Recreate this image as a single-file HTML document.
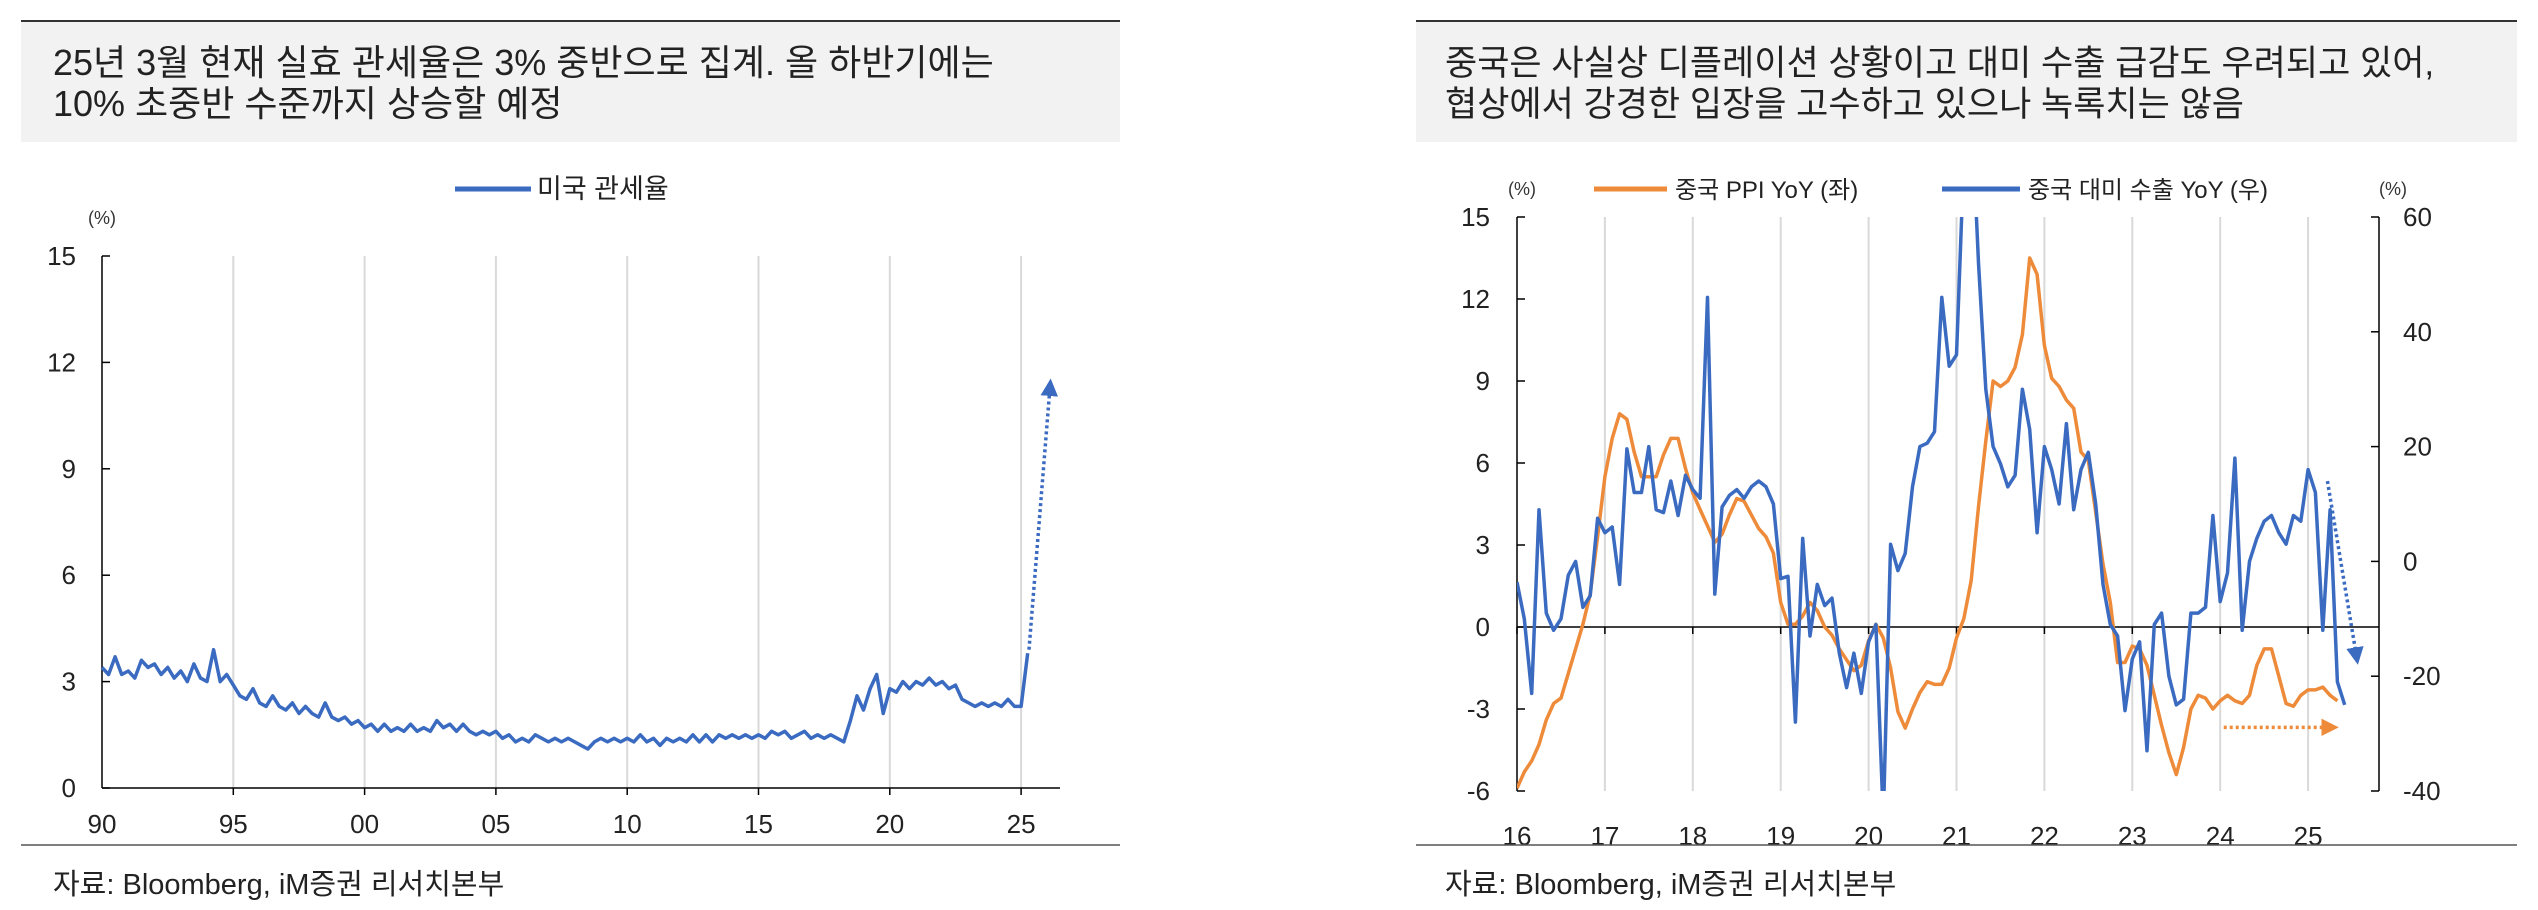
<!DOCTYPE html>
<html><head><meta charset="utf-8"><style>
html,body{margin:0;padding:0;background:#fff;}
svg{display:block;font-family:"Liberation Sans","Noto Sans CJK KR",sans-serif;}
</style></head><body>
<svg id="root" width="2538" height="910" viewBox="0 0 2538 910" xmlns="http://www.w3.org/2000/svg">
<defs>
<clipPath id="clipR"><rect x="1517" y="217" width="862" height="574"/></clipPath>
<marker id="arrB" markerWidth="5" markerHeight="5" refX="2.5" refY="2.5" orient="auto"><path d="M0,0 L5,2.5 L0,5 z" fill="#3a6bc1"/></marker>
<marker id="arrO" markerWidth="5" markerHeight="5" refX="2.5" refY="2.5" orient="auto"><path d="M0,0 L5,2.5 L0,5 z" fill="#ed8b3a"/></marker>
</defs>
<g>
<line x1="21" y1="21" x2="1120" y2="21" stroke="#333" stroke-width="2"/>
<rect x="21" y="22" width="1099" height="120" fill="#f2f2f2"/>
<text x="53" y="75" font-size="36" fill="#222">25년 3월 현재 실효 관세율은 3% 중반으로 집계. 올 하반기에는</text>
<text x="53" y="116" font-size="36" fill="#222">10% 초중반 수준까지 상승할 예정</text>
<line x1="455" y1="189" x2="531" y2="189" stroke="#3a6bc1" stroke-width="5"/>
<text x="537" y="198" font-size="27" fill="#222">미국 관세율</text>
<text x="88" y="224" font-size="18" fill="#333">(%)</text>
<g id="leftAxes"></g>
<g id="leftSeries"></g>
<line x1="21" y1="845" x2="1120" y2="845" stroke="#555" stroke-width="1.5"/>
<text x="53" y="894" font-size="29" fill="#222">자료: Bloomberg, iM증권 리서치본부</text>
</g>
<g>
<line x1="1416" y1="21" x2="2517" y2="21" stroke="#333" stroke-width="2"/>
<rect x="1416" y="22" width="1101" height="120" fill="#f2f2f2"/>
<text x="1445" y="75" font-size="35" fill="#222">중국은 사실상 디플레이션 상황이고 대미 수출 급감도 우려되고 있어,</text>
<text x="1445" y="116" font-size="35" fill="#222">협상에서 강경한 입장을 고수하고 있으나 녹록치는 않음</text>
<line x1="1594" y1="189" x2="1667" y2="189" stroke="#ed8b3a" stroke-width="5"/>
<text x="1675" y="198" font-size="24" fill="#222">중국 PPI YoY (좌)</text>
<line x1="1942" y1="189" x2="2020" y2="189" stroke="#3a6bc1" stroke-width="5"/>
<text x="2028" y="198" font-size="24" fill="#222">중국 대미 수출 YoY (우)</text>
<text x="1508" y="195" font-size="18" fill="#333">(%)</text>
<text x="2379" y="195" font-size="18" fill="#333">(%)</text>
<g id="rightAxes"></g>
<g id="rightSeries" clip-path="url(#clipR)"></g>
<g id="rightArrows"></g>
<line x1="1416" y1="845" x2="2517" y2="845" stroke="#555" stroke-width="1.5"/>
<text x="1445" y="894" font-size="29" fill="#222">자료: Bloomberg, iM증권 리서치본부</text>
</g>
</svg>
<script>
const tariffStartYear = 1990;
const tariffQuarterly = [
3.4,3.2,3.7,3.2, 3.3,3.1,3.6,3.4, 3.5,3.2,3.4,3.1, 3.3,3.0,3.5,3.1, 3.0,3.9,3.0,3.2,
2.9,2.6,2.5,2.8, 2.4,2.3,2.6,2.3, 2.2,2.4,2.1,2.3, 2.1,2.0,2.4,2.0, 1.9,2.0,1.8,1.9,
1.7,1.8,1.6,1.8, 1.6,1.7,1.6,1.8, 1.6,1.7,1.6,1.9, 1.7,1.8,1.6,1.8, 1.6,1.5,1.6,1.5,
1.6,1.4,1.5,1.3, 1.4,1.3,1.5,1.4, 1.3,1.4,1.3,1.4, 1.3,1.2,1.1,1.3, 1.4,1.3,1.4,1.3,
1.4,1.3,1.5,1.3, 1.4,1.2,1.4,1.3, 1.4,1.3,1.5,1.3, 1.5,1.3,1.5,1.4, 1.5,1.4,1.5,1.4,
1.5,1.4,1.6,1.5, 1.6,1.4,1.5,1.6, 1.4,1.5,1.4,1.5, 1.4,1.3,1.9,2.6, 2.2,2.8,3.2,2.1,
2.8,2.7,3.0,2.8, 3.0,2.9,3.1,2.9, 3.0,2.8,2.9,2.5, 2.4,2.3,2.4,2.3, 2.4,2.3,2.5,2.3,
2.3,3.8];
const tariffArrowFrom = [2025.3, 3.9];
const tariffArrowTo = [2026.1, 11.3];
const leftYTicks = [0,3,6,9,12,15];
const leftXTicks = [1990,1995,2000,2005,2010,2015,2020,2025];
const leftXLabels = ["90","95","00","05","10","15","20","25"];

const rightStartYear = 2016;
const ppiMonthly = [
-5.9,-5.3,-4.9,-4.3,-3.4,-2.8,-2.6,-1.7,-0.8,0.1,1.2,3.3,
5.5,6.9,7.8,7.6,6.4,5.5,5.5,5.5,6.3,6.9,6.9,5.8,
4.9,4.3,3.7,3.1,3.4,4.1,4.7,4.6,4.1,3.6,3.3,2.7,
0.9,0.1,0.1,0.4,0.9,0.6,0.0,-0.3,-0.8,-1.2,-1.6,-1.4,
-0.5,0.1,-0.4,-1.5,-3.1,-3.7,-3.0,-2.4,-2.0,-2.1,-2.1,-1.5,
-0.4,0.3,1.7,4.4,6.8,9.0,8.8,9.0,9.5,10.7,13.5,12.9,
10.3,9.1,8.8,8.3,8.0,6.4,6.1,4.2,2.3,0.9,-1.3,-1.3,
-0.7,-0.8,-1.4,-2.5,-3.6,-4.6,-5.4,-4.4,-3.0,-2.5,-2.6,-3.0,
-2.7,-2.5,-2.7,-2.8,-2.5,-1.4,-0.8,-0.8,-1.8,-2.8,-2.9,-2.5,
-2.3,-2.3,-2.2,-2.5,-2.7];
const exportsMonthly = [
-3.6,-10,-23,9,-9,-12,-10,-2.4,0,-8,-6,7.5,
5,6,-4,19.6,12,12,20,9,8.5,14,8,15,
12.5,11,46,-5.7,9.5,11.5,12.5,11,13,14,13,10,
-3,-2.6,-28,4,-13,-4,-7.7,-6.4,-16,-22,-16,-23,
-14,-11,-45,3,-1.6,1.4,13,20,20.6,22.6,46,34,
36,70,80,52,30,20,17,13,15,30,23,5,
20,16,10,24,9,16,19,10,-4,-11,-13,-26,
-17,-14,-33,-11,-9,-20,-25,-24,-9,-9,-8,8,
-7,-2,18,-12,0,4,7,8,5,3,8,7,
16,12,-12,9,-21,-25];
const ppiArrowFrom = [2024.04, -3.67];
const ppiArrowTo = [2025.25, -3.67];
const expArrowFrom = [2025.22, 14];
const expArrowTo = [2025.55, -16.5];
const rightLeftTicks = [-6,-3,0,3,6,9,12,15];
const rightRightTicks = [-40,-20,0,20,40,60];
const rightXTicks = [2016,2017,2018,2019,2020,2021,2022,2023,2024,2025];
const rightXLabels = ["16","17","18","19","20","21","22","23","24","25"];

const NS = "http://www.w3.org/2000/svg";
function mk(tag, attrs, parent){const e=document.createElementNS(NS,tag);for(const k in attrs)e.setAttribute(k,attrs[k]);parent.appendChild(e);return e;}

const lx = yr => 102 + (yr-1990)*26.26;
const ly = v => 788 - v*(532/15);
(function(){
 const g=document.getElementById('leftAxes');
 leftXTicks.forEach((t,i)=>{
  if(i>0){const gl=mk('line',{x1:lx(t),y1:256,x2:lx(t),y2:788,stroke:'#d9d9d9','stroke-width':2},g);
   
   
   const tk=mk('line',{x1:lx(t),y1:788,x2:lx(t),y2:795,stroke:'#000','stroke-width':1.5},g);
   
   }
  const tx=mk('text',{x:lx(t),y:833,'font-size':26,'text-anchor':'middle',fill:'#222'},g);
  tx.textContent=leftXLabels[i];
  
  
 });
 leftYTicks.forEach(t=>{
  const tk=mk('line',{x1:102,y1:ly(t),x2:110,y2:ly(t),stroke:'#000','stroke-width':1.5},g);
  
  
  const tx=mk('text',{x:76,y:ly(t)+9,'font-size':26,'text-anchor':'end',fill:'#222'},g);
  tx.textContent=String(t);
  
  
 });
 const ya=mk('line',{x1:102,y1:256,x2:102,y2:788,stroke:'#000','stroke-width':1.5},g);
 
 
 const xa=mk('line',{x1:102,y1:788,x2:1060,y2:788,stroke:'#000','stroke-width':1.5},g);
 
 

 const s=document.getElementById('leftSeries');
 const pts=tariffQuarterly.map((v,i)=>lx(tariffStartYear+i*0.25).toFixed(1)+','+ly(v).toFixed(1)).join(' ');
 const pl=mk('polyline',{points:pts,fill:'none',stroke:'#3a6bc1','stroke-width':3.5,'stroke-linejoin':'round'},s);
 
 
 const ar=mk('line',{x1:lx(tariffArrowFrom[0]),y1:ly(tariffArrowFrom[1]),x2:lx(tariffArrowTo[0]),y2:ly(tariffArrowTo[1]),stroke:'#3a6bc1','stroke-width':3.5,'stroke-dasharray':'3 3','marker-end':'url(#arrB)'},s);
 
 
})();

const rx = yr => 1517 + (yr-2016)*87.9;
const ryL = v => 791 - (v+6)*(574/21);
const ryR = v => 791 - (v+40)*5.74;
(function(){
 const g=document.getElementById('rightAxes');
 rightXTicks.forEach((t,i)=>{
  if(i>0){const gl=mk('line',{x1:rx(t),y1:217,x2:rx(t),y2:791,stroke:'#d9d9d9','stroke-width':2},g);
   
   }
  const tx=mk('text',{x:rx(t),y:845,'font-size':26,'text-anchor':'middle',fill:'#222'},g);
  tx.textContent=rightXLabels[i];
  
  
 });
 rightLeftTicks.forEach(t=>{
  const tk=mk('line',{x1:1517,y1:ryL(t),x2:1525,y2:ryL(t),stroke:'#000','stroke-width':1.5},g);
  
  
  const tx=mk('text',{x:1490,y:ryL(t)+9,'font-size':26,'text-anchor':'end',fill:'#222'},g);
  tx.textContent=String(t);
  
  
 });
 rightRightTicks.forEach(t=>{
  const tk=mk('line',{x1:2371,y1:ryR(t),x2:2379,y2:ryR(t),stroke:'#000','stroke-width':1.5},g);
  
  
  const tx=mk('text',{x:2403,y:ryR(t)+9,'font-size':26,'text-anchor':'start',fill:'#222'},g);
  tx.textContent=String(t);
  
  
 });
 const ya=mk('line',{x1:1517,y1:217,x2:1517,y2:791,stroke:'#000','stroke-width':1.5},g);
 
 
 const yb=mk('line',{x1:2379,y1:217,x2:2379,y2:791,stroke:'#000','stroke-width':1.5},g);
 
 
 const z=mk('line',{x1:1517,y1:ryL(0),x2:2379,y2:ryL(0),stroke:'#000','stroke-width':1.5},g);
 
 
 rightXTicks.forEach(t=>{
  const tk=mk('line',{x1:rx(t),y1:ryL(0),x2:rx(t),y2:ryL(0)+7,stroke:'#000','stroke-width':1.5},g);
  
  
 });

 const s=document.getElementById('rightSeries');
 const p1=ppiMonthly.map((v,i)=>rx(rightStartYear+i/12).toFixed(1)+','+ryL(v).toFixed(1)).join(' ');
 const l1=mk('polyline',{points:p1,fill:'none',stroke:'#ed8b3a','stroke-width':3.5,'stroke-linejoin':'round'},s);
 
 
 const p2=exportsMonthly.map((v,i)=>rx(rightStartYear+i/12).toFixed(1)+','+ryR(v).toFixed(1)).join(' ');
 const l2=mk('polyline',{points:p2,fill:'none',stroke:'#3a6bc1','stroke-width':3.5,'stroke-linejoin':'round'},s);
 
 

 const a=document.getElementById('rightArrows');
 const a1=mk('line',{x1:rx(ppiArrowFrom[0]),y1:ryL(ppiArrowFrom[1]),x2:rx(ppiArrowTo[0]),y2:ryL(ppiArrowTo[1]),stroke:'#ed8b3a','stroke-width':3.5,'stroke-dasharray':'3 3','marker-end':'url(#arrO)'},a);
 
 
 const a2=mk('line',{x1:rx(expArrowFrom[0]),y1:ryR(expArrowFrom[1]),x2:rx(expArrowTo[0]),y2:ryR(expArrowTo[1]),stroke:'#3a6bc1','stroke-width':3.5,'stroke-dasharray':'3 3','marker-end':'url(#arrB)'},a);
 
 
})();
</script>
</body></html>
